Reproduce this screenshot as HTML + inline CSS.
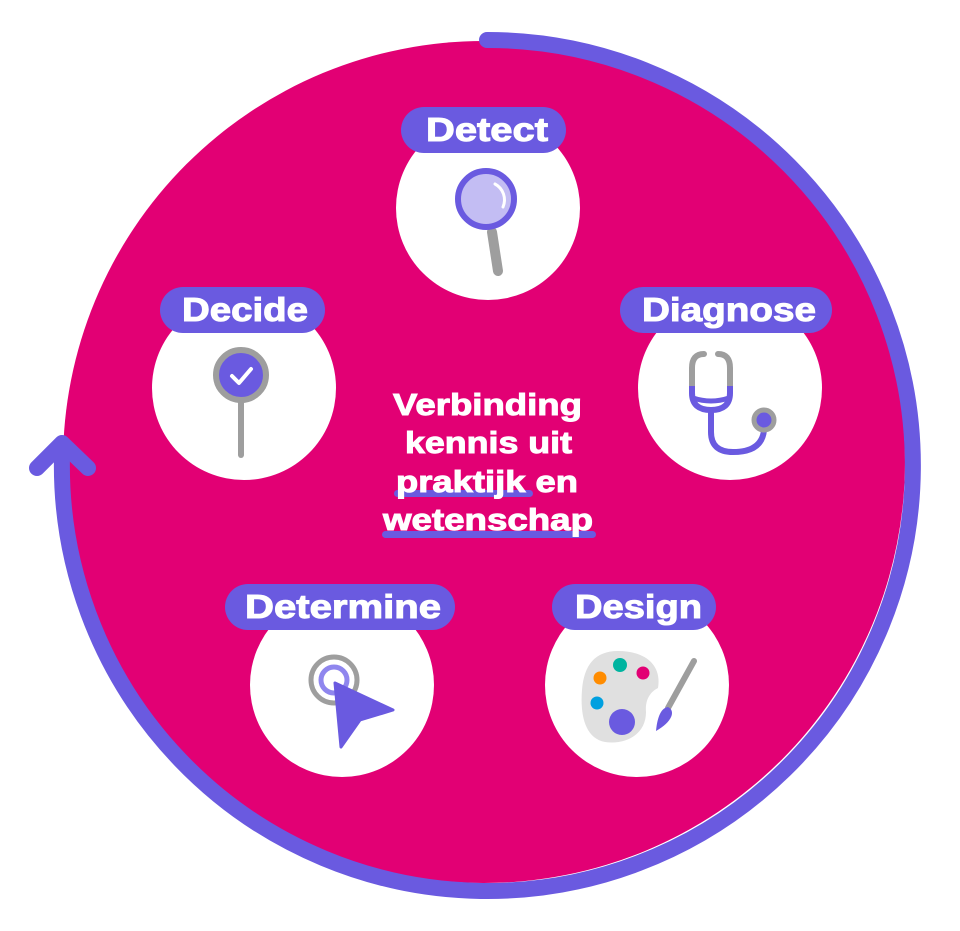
<!DOCTYPE html>
<html><head><meta charset="utf-8"><style>
html,body{margin:0;padding:0;background:#fff;}
svg{display:block;}
text{font-family:"Liberation Sans",sans-serif;font-weight:bold;fill:#fff;stroke:#fff;stroke-width:1;}
</style></head><body>
<svg width="960" height="931" viewBox="0 0 960 931" xmlns="http://www.w3.org/2000/svg">
<circle cx="484" cy="462" r="421" fill="#E20074"/>
<path d="M487 40 A425.5 425.5 0 1 1 62 455" fill="none" stroke="#6A5AE0" stroke-width="16" stroke-linecap="round"/>
<path d="M37 468 L62 443 L88 468" fill="none" stroke="#6A5AE0" stroke-width="16" stroke-linecap="round" stroke-linejoin="round"/>

<g fill="#fff">
<circle cx="488" cy="208" r="92"/>
<circle cx="244" cy="388" r="92"/>
<circle cx="730" cy="388" r="92"/>
<circle cx="342" cy="685" r="92"/>
<circle cx="637" cy="685" r="92"/>
</g>

<g fill="#6A5AE0">
<rect x="401" y="107" width="165" height="46" rx="23"/>
<rect x="160" y="287" width="165" height="46" rx="23"/>
<rect x="620" y="287" width="212" height="46" rx="23"/>
<rect x="225" y="584" width="230" height="46" rx="23"/>
<rect x="552" y="584" width="164" height="46" rx="23"/>
</g>
<g font-size="33">
<text x="426" y="141" textLength="122" lengthAdjust="spacingAndGlyphs">Detect</text>
<text x="182" y="321" textLength="126" lengthAdjust="spacingAndGlyphs">Decide</text>
<text x="642" y="321" textLength="174" lengthAdjust="spacingAndGlyphs">Diagnose</text>
<text x="245" y="618" textLength="196" lengthAdjust="spacingAndGlyphs">Determine</text>
<text x="575" y="618" textLength="127" lengthAdjust="spacingAndGlyphs">Design</text>
</g>

<!-- center text -->
<rect x="394" y="490" width="139" height="7" rx="3.5" fill="#6A5AE0"/>
<rect x="382" y="531" width="214" height="7" rx="3.5" fill="#6A5AE0"/>
<g font-size="31">
<text x="393" y="415" textLength="189" lengthAdjust="spacingAndGlyphs">Verbinding</text>
<text x="405" y="453" textLength="167" lengthAdjust="spacingAndGlyphs">kennis uit</text>
<text x="396" y="492" textLength="182" lengthAdjust="spacingAndGlyphs">praktijk en</text>
<text x="383" y="530" textLength="210" lengthAdjust="spacingAndGlyphs">wetenschap</text>
</g>

<!-- Detect icon -->
<line x1="492" y1="232" x2="498" y2="271" stroke="#9E9E9E" stroke-width="10" stroke-linecap="round"/>
<circle cx="486" cy="199" r="28" fill="#C3BDF3" stroke="#6A5AE0" stroke-width="6"/>
<path d="M495 184 A18 18 0 0 1 503 207" fill="none" stroke="#fff" stroke-width="3" stroke-linecap="round"/>

<!-- Decide icon -->
<line x1="241" y1="400" x2="241" y2="455" stroke="#9E9E9E" stroke-width="6" stroke-linecap="round"/>
<circle cx="241" cy="375" r="25" fill="#6A5AE0" stroke="#9E9E9E" stroke-width="6"/>
<path d="M232 376 L239 383 L251 369" fill="none" stroke="#fff" stroke-width="4" stroke-linecap="round" stroke-linejoin="round"/>

<!-- Diagnose icon -->
<path d="M704 354 Q692 354 692 368 V386" fill="none" stroke="#9E9E9E" stroke-width="6" stroke-linecap="round"/>
<path d="M718 354 Q730 354 730 368 V386" fill="none" stroke="#9E9E9E" stroke-width="6" stroke-linecap="round"/>
<path d="M692 386 V393 Q692 410 711 410 Q730 410 730 393 V386" fill="none" stroke="#6A5AE0" stroke-width="6"/>
<path d="M693 398 Q711 404 729 398" fill="none" stroke="#6A5AE0" stroke-width="5"/>
<path d="M711 410 V432 Q711 452 733 452 Q762 452 764 430" fill="none" stroke="#6A5AE0" stroke-width="6" stroke-linecap="round"/>
<circle cx="764" cy="420" r="10" fill="#6A5AE0" stroke="#9E9E9E" stroke-width="5"/>

<!-- Determine icon -->
<circle cx="334" cy="680" r="23" fill="none" stroke="#9E9E9E" stroke-width="5"/>
<circle cx="334" cy="680" r="13" fill="none" stroke="#8F86EE" stroke-width="5"/>
<path d="M335 683 L393 710 L360 720 L341 747 Z" fill="#6A5AE0" stroke="#6A5AE0" stroke-width="3" stroke-linejoin="round"/>

<!-- Design icon -->
<path d="M618 651 C645 651 662 665 658 688 C650 692 645 700 646 712 C646 735 625 745 605 742 C585 738 580 715 582 690 C584 665 595 651 618 651 Z" fill="#E0E0E0"/>
<circle cx="620" cy="665" r="7" fill="#00B4A0"/>
<circle cx="643" cy="673" r="6.5" fill="#E20074"/>
<circle cx="600" cy="678" r="6.5" fill="#FF8C00"/>
<circle cx="597" cy="703" r="6.5" fill="#00A0E0"/>
<circle cx="622" cy="722" r="13" fill="#6A5AE0"/>
<line x1="694" y1="661" x2="668" y2="708" stroke="#9E9E9E" stroke-width="6" stroke-linecap="round"/>
<path d="M668 707 C676 711 672 722 656 731 C657 720 660 708 668 707 Z" fill="#6A5AE0"/>
</svg>
</body></html>
